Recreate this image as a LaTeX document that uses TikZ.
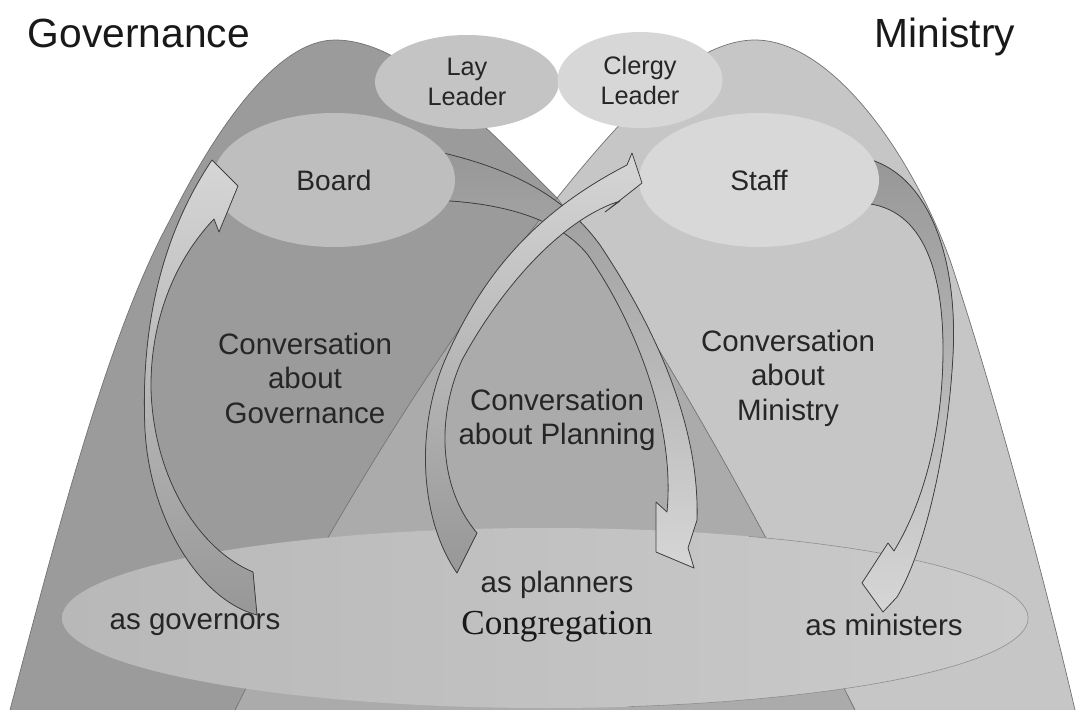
\documentclass[tikz,border=0pt]{standalone}
\usepackage{fontspec}
\setmainfont{Liberation Sans}
\newfontfamily\congfont{Liberation Serif}
\usetikzlibrary{shapes.geometric}

\definecolor{govgray}{HTML}{9B9B9B}
\definecolor{mingray}{HTML}{C6C6C6}
\definecolor{plangray}{HTML}{ABABAB}
\definecolor{boardgray}{HTML}{BEBEBE}
\definecolor{staffgray}{HTML}{D8D8D8}
\definecolor{laygray}{HTML}{C4C4C4}
\definecolor{clergygray}{HTML}{D7D7D7}
\definecolor{conglo}{HTML}{B8B8B8}
\definecolor{conghi}{HTML}{CBCBCB}
\definecolor{ribbonlight}{HTML}{D6D6D6}
\definecolor{ribbondark}{HTML}{979797}

\begin{document}
\begin{tikzpicture}[x=0.25mm,y=0.25mm,
    blob/.style={ellipse,inner sep=0pt,text=black!85,font=\fontsize{20}{23}\selectfont},
    lbl/.style={align=center,text=black!85,font=\fontsize{21}{24.5}\selectfont},
    edge/.style={draw=black!55,line width=0.5pt},
    ribbon/.style={draw=black!75,line width=0.55pt,line join=round}]

\useasboundingbox (0,0) rectangle (1088,-710);

%les deux cloches (Governance a gauche, Ministry a droite)
    \def\GovEdge{(10,-710) .. controls (60,-520) and (110,-330) .. (170,-220) .. controls (220,-120) and (280,-40) .. (335,-40) .. controls (400,-40) and (470,-110) .. (557,-198) .. controls (650,-320) and (760,-520) .. (855,-710)}
    \def\MinEdge{(235,-710) .. controls (330,-520) and (450,-330) .. (557,-198) .. controls (620,-120) and (690,-40) .. (755,-40) .. controls (830,-40) and (910,-150) .. (950,-260) .. controls (990,-380) and (1040,-560) .. (1075,-710)}

\fill[govgray] \GovEdge -- cycle;
\fill[mingray] \MinEdge -- cycle;
\begin{scope}
    \clip \GovEdge -- cycle;
    \fill[plangray] \MinEdge -- cycle; %zone commune : planning
\end{scope}
\draw[edge] \GovEdge;
\draw[edge] \MinEdge;

% la congregation
\shade[left color=conglo,right color=conghi] (545,-618) ellipse [x radius=483,y radius=90];
\draw[black!45,line width=0.4pt] (545,-618) ++(65:483 and 90) arc [start angle=65,end angle=-80,x radius=483,y radius=90];

% rubans qui passent derriere Board et Staff
\filldraw[ribbon,top color=ribbondark,bottom color=ribbonlight] (430,-150) .. controls (500,-165) and (560,-190) .. (600,-245) .. controls (650,-320) and (700,-420) .. (697,-520) -- (688,-548) -- (694,-568) -- (656,-552) -- (656,-502) -- (667,-512) .. controls (675,-430) and (640,-330) .. (588,-255) .. controls (560,-220) and (505,-202) .. (430,-200) -- cycle;
\filldraw[ribbon,top color=ribbondark,bottom color=ribbonlight] (860,-157) .. controls (930,-170) and (958,-260) .. (953,-355) .. controls (948,-450) and (925,-550) .. (897,-597) -- (883,-612) -- (862,-583) -- (888,-543) -- (894,-551) .. controls (925,-500) and (942,-430) .. (943,-355) .. controls (944,-265) and (920,-205) .. (860,-203) -- cycle;

% les ellipses du haut
\node[blob,fill=boardgray,minimum width=60.5mm,minimum height=33.5mm] (board) at (334,-180) {Board};
\node[blob,fill=staffgray,minimum width=60mm,minimum height=33.5mm] (staff) at (759,-180) {Staff};
\node[blob,fill=laygray,minimum width=46mm,minimum height=23.5mm,align=center,font=\fontsize{18}{21.3}\selectfont] (lay) at (467,-82) {Lay\\Leader};
\node[blob,fill=clergygray,minimum width=41.25mm,minimum height=24mm,align=center,font=\fontsize{18}{21.3}\selectfont] (clergy) at (640,-80) {Clergy\\Leader};

% rubans devant
\filldraw[ribbon,top color=ribbonlight,bottom color=ribbondark] (257,-615) .. controls (200,-600) and (150,-520) .. (145,-430) .. controls (140,-320) and (165,-230) .. (212,-160) -- (238,-186) -- (219,-232) -- (214,-219) .. controls (175,-260) and (150,-320) .. (151,-390) .. controls (154,-480) and (200,-550) .. (253,-572) -- cycle;
\filldraw[ribbon,top color=ribbonlight,bottom color=ribbondark] (457,-573) .. controls (420,-520) and (415,-430) .. (445,-360) .. controls (480,-280) and (530,-215) .. (627,-165) -- (632,-153) -- (642,-183) -- (605,-212) -- (620,-201) .. controls (560,-220) and (500,-290) .. (462,-360) .. controls (435,-420) and (440,-490) .. (477,-533) -- cycle;

% textes
\node[anchor=base west,text=black!90,font=\fontsize{29}{32}\selectfont] (governance) at (23,-47) {Governance};
\node[anchor=base east,text=black!90,font=\fontsize{29}{32}\selectfont] (ministry) at (1020,-47) {Ministry};
\node[lbl] (convgov) at (305,-378) {Conversation\\about\\Governance};
\node[lbl] (convmin) at (788,-378) {Conversation\\about\\Ministry};
\node[lbl] (convplan) at (557,-420) {Conversation\\about Planning};
\node[lbl] (planners) at (557,-585) {as planners};
\node[text=black!90,font=\congfont\fontsize{25}{28}\selectfont] (cong) at (557,-627) {Congregation};
\node[lbl] (governors) at (195,-625) {as governors};
\node[lbl] (ministers) at (884,-625) {as ministers};

\end{tikzpicture}
\end{document}
